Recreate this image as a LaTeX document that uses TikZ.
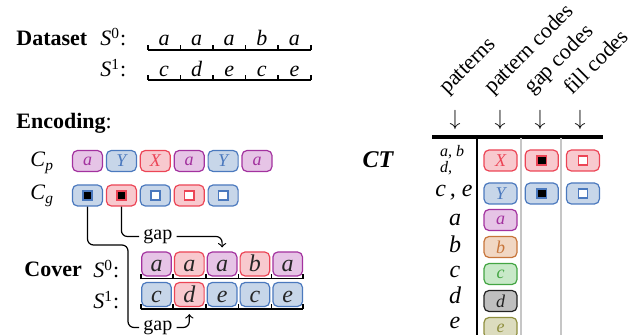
\documentclass[tikz,border=0pt]{standalone}
\usepackage{fontspec}
\setmainfont{Liberation Serif}
\usepackage{xcolor}
\usepackage{tikz}
\usetikzlibrary{positioning}

\definecolor{puD}{HTML}{A3329F}
\definecolor{puL}{HTML}{E6C4E6}
\definecolor{blD}{HTML}{4B79BE}
\definecolor{blL}{HTML}{C7D6E9}
\definecolor{rdD}{HTML}{EC4556}
\definecolor{rdL}{HTML}{F8C9CE}
\definecolor{orD}{HTML}{C7753A}
\definecolor{orL}{HTML}{F1D7C3}
\definecolor{grD}{HTML}{43A543}
\definecolor{grL}{HTML}{C8E9C8}
\definecolor{bkD}{HTML}{222222}
\definecolor{bkL}{HTML}{BFBFBF}
\definecolor{olD}{HTML}{8F8F3E}
\definecolor{olL}{HTML}{DCDCBE}

\newcommand{\gapsq}[2]{{\setlength{\fboxsep}{0pt}\setlength{\fboxrule}{0.8pt}\fcolorbox{#1}{#2}{\rule{0pt}{3.8pt}\hspace{3.8pt}}}}

\tikzstyle{code} = [rectangle, semithick, rounded corners=2.5pt,
    minimum width=15pt, minimum height=10.5pt, inner sep=0pt,
    font=\fontsize{9}{10}\selectfont\itshape]
\tikzstyle{ctcode} = [code, minimum width=16.5pt]
\tikzstyle{cover_box} = [rectangle, semithick, rounded corners=2.5pt,
    minimum width=14.8pt, inner xsep=0pt, inner ysep=2pt,
    text height=8pt, text depth=0pt, text=black!85,
    font=\fontsize{12}{14}\selectfont\itshape]
\tikzstyle{seq} = [inner sep=0pt, minimum width=15.9pt,
    text height=7.5pt, text depth=0pt, font=\fontsize{11}{13}\selectfont\itshape]
\tikzstyle{title} = [anchor=base west, inner sep=0pt, font=\fontsize{11}{13}\selectfont\bfseries]
\tikzstyle{txt} = [inner sep=0pt, font=\fontsize{11}{13}\selectfont]
\tikzstyle{rowlbl} = [inner sep=0pt, anchor=base, font=\fontsize{12}{14}\selectfont\itshape]
\tikzstyle{head} = [rotate=45, anchor=base west, inner sep=0pt, font=\fontsize{11}{13}\selectfont]
\tikzstyle{line} = [draw, semithick]
\tikzstyle{ruler} = [draw, thick]
\tikzstyle{pu} = [draw=puD, fill=puL, text=puD]
\tikzstyle{bl} = [draw=blD, fill=blL, text=blD]
\tikzstyle{rd} = [draw=rdD, fill=rdL, text=rdD]
\tikzstyle{or} = [draw=orD, fill=orL, text=orD]
\tikzstyle{gr} = [draw=grD, fill=grL, text=grD]
\tikzstyle{bk} = [draw=bkD, fill=bkL, text=bkD]
\tikzstyle{ol} = [draw=olD, fill=olL, text=olD]

\begin{document}
\begin{tikzpicture}[x=0.5pt, y=-0.5pt]
    \useasboundingbox (0,0) rectangle (636,335);
    % Dataset
    \node [title] (ttlds) at (16,46) {Dataset};
    \node [txt, anchor=base west] (ds0) at (100,46) {\textit{S}\textsuperscript{0}:};
    \node [txt, anchor=base west] (ds1) at (100,77) {\textit{S}\textsuperscript{1}:};
    \node [seq, anchor=south] (dsa) at (164,46) {a};
    \node [seq, right=0pt of dsa] (dsb) {a};
    \node [seq, right=0pt of dsb] (dsc) {a};
    \node [seq, right=0pt of dsc] (dsd) {b};
    \node [seq, right=0pt of dsd] (dse) {a};
    \node [seq, anchor=south] (dta) at (164,77) {c};
    \node [seq, right=0pt of dta] (dtb) {d};
    \node [seq, right=0pt of dtb] (dtc) {e};
    \node [seq, right=0pt of dtc] (dtd) {c};
    \node [seq, right=0pt of dtd] (dte) {e};
    \path [ruler] ([yshift=-2pt]dsa.south west) -- ([yshift=-2pt]dse.south east)
        ([yshift=-2pt]dsa.south west) -- ++(0,2.5pt) ([yshift=-2pt]dsb.south west) -- ++(0,2.5pt)
        ([yshift=-2pt]dsc.south west) -- ++(0,2.5pt) ([yshift=-2pt]dsd.south west) -- ++(0,2.5pt)
        ([yshift=-2pt]dse.south west) -- ++(0,2.5pt) ([yshift=-2pt]dse.south east) -- ++(0,2.5pt);
    \path [ruler] ([yshift=-1.5pt]dta.south west) -- ([yshift=-1.5pt]dte.south east)
        ([yshift=-1.5pt]dta.south west) -- ++(0,2.5pt) ([yshift=-1.5pt]dtb.south west) -- ++(0,2.5pt)
        ([yshift=-1.5pt]dtc.south west) -- ++(0,2.5pt) ([yshift=-1.5pt]dtd.south west) -- ++(0,2.5pt)
        ([yshift=-1.5pt]dte.south west) -- ++(0,2.5pt) ([yshift=-1.5pt]dte.south east) -- ++(0,2.5pt);

    % Encoding
    \node [title] (ttlenc) at (16,129) {Encoding\mdseries:};
    \node [txt, anchor=base west] (lcp) at (30,167) {\textit{C}\textsubscript{\textit{p}}};
    \node [txt, anchor=base west] (lcg) at (30,200) {\textit{C}\textsubscript{\textit{g}}};
    \node [code, pu] (cpa) at (87.5,161) {a};
    \node [code, bl, right=1.35pt of cpa] (cpb) {Y};
    \node [code, rd, right=1.35pt of cpb] (cpc) {X};
    \node [code, pu, right=1.35pt of cpc] (cpd) {a};
    \node [code, bl, right=1.35pt of cpd] (cpe) {Y};
    \node [code, pu, right=1.35pt of cpe] (cpf) {a};
    \node [code, bl] (cga) at (87.5,195.5) {\gapsq{blD}{black}};
    \node [code, rd, right=1.35pt of cga] (cgb) {\gapsq{rdD}{black}};
    \node [code, bl, right=1.35pt of cgb] (cgc) {\gapsq{blD}{white}};
    \node [code, rd, right=1.35pt of cgc] (cgd) {\gapsq{rdD}{white}};
    \node [code, bl, right=1.35pt of cgd] (cge) {\gapsq{blD}{white}};

    % Cover
    \node [title] (ttlcov) at (24,277) {Cover};
    \node [txt, anchor=base west] (cs0) at (93,278) {\textit{S}\textsuperscript{0}:};
    \node [txt, anchor=base west] (cs1) at (93,309) {\textit{S}\textsuperscript{1}:};
    \node [pu, cover_box] (cva) at (156.5,264) {a};
    \node [rd, cover_box, right=1pt of cva] (cvb) {a};
    \node [pu, cover_box, right=1pt of cvb] (cvc) {a};
    \node [rd, cover_box, right=1pt of cvc] (cvd) {b};
    \node [pu, cover_box, right=1pt of cvd] (cve) {a};
    \node [bl, cover_box] (cwa) at (156.5,294.5) {c};
    \node [rd, cover_box, right=1pt of cwa] (cwb) {d};
    \node [bl, cover_box, right=1pt of cwb] (cwc) {e};
    \node [bl, cover_box, right=1pt of cwc] (cwd) {c};
    \node [bl, cover_box, right=1pt of cwd] (cwe) {e};
    \path [ruler] ([yshift=-1pt]cva.south west) -- ([yshift=-1pt]cve.south east)
        ([yshift=-1pt]cva.south west) -- ++(0,2.5pt) ([xshift=-0.5pt,yshift=-1pt]cvb.south west) -- ++(0,2.5pt)
        ([xshift=-0.5pt,yshift=-1pt]cvc.south west) -- ++(0,2.5pt) ([xshift=-0.5pt,yshift=-1pt]cvd.south west) -- ++(0,2.5pt)
        ([xshift=-0.5pt,yshift=-1pt]cve.south west) -- ++(0,2.5pt) ([yshift=-1pt]cve.south east) -- ++(0,2.5pt);
    \path [ruler] ([yshift=-1pt]cwa.south west) -- ([yshift=-1pt]cwe.south east)
        ([yshift=-1pt]cwa.south west) -- ++(0,2.5pt) ([xshift=-0.5pt,yshift=-1pt]cwb.south west) -- ++(0,2.5pt)
        ([xshift=-0.5pt,yshift=-1pt]cwc.south west) -- ++(0,2.5pt) ([xshift=-0.5pt,yshift=-1pt]cwd.south west) -- ++(0,2.5pt)
        ([xshift=-0.5pt,yshift=-1pt]cwe.south west) -- ++(0,2.5pt) ([yshift=-1pt]cwe.south east) -- ++(0,2.5pt);

    % gaps
    \node [txt, anchor=west, inner xsep=2pt, font=\fontsize{10}{12}\selectfont] (gap1) at (139,236.5) {gap};
    \node [txt, anchor=west, inner xsep=2pt, font=\fontsize{10}{12}\selectfont] (gap2) at (139,327.5) {gap};
    \coordinate (bend) at (128,245);
    \path [line, rounded corners=3pt] (cgb.south) |- (gap1.west);
    \path [line, ->, rounded corners=3pt] (gap1.east) -| ([yshift=2pt]cvc.north);
    \path [line, rounded corners=3pt] (cga.south) |- (bend) |- (gap2.west);
    \path [line, ->, rounded corners=3pt] (gap2.east) -| ([yshift=-3.5pt]cwb.south);

    % code table
    \node [txt, font=\fontsize{12}{14}\selectfont\bfseries\itshape] (ct) at (378,160) {CT};
    \node [head] (hpat) at (447,95) {patterns};
    \node [head] (hpc) at (492,95) {pattern codes};
    \node [head] (hgap) at (532,95) {gap codes};
    \node [head] (hfill) at (572,96) {fill codes};
    \node [txt] (apat) at (455,120) {$\downarrow$};
    \node [txt] (apc) at (500,120) {$\downarrow$};
    \node [txt] (agap) at (540,120) {$\downarrow$};
    \node [txt] (afill) at (580,120) {$\downarrow$};
    \draw [line width=1.6pt] (432,137) -- (603,137);
    \draw [line width=1.4pt] (477,137) -- (477,335);
    \draw [gray!45, semithick] (521,138) -- (521,335);
    \draw [gray!45, semithick] (561,138) -- (561,335);

    \node [txt, align=left, font=\fontsize{8}{6.5}\selectfont\itshape] (rowx) at (452,160) {a, b\\d,};
    \node [rowlbl] (rowy) at (454,197) {c\,, e};
    \node [rowlbl] (rowa) at (455,226) {a};
    \node [rowlbl] (rowb) at (455,253) {b};
    \node [rowlbl] (rowc) at (455,278) {c};
    \node [rowlbl] (rowd) at (455,304) {d};
    \node [rowlbl] (rowe) at (455,329) {e};

    \node [ctcode, rd] (ctx) at (500.5,160.5) {X};
    \node [ctcode, rd, right=3.5pt of ctx] (ctxg) {\gapsq{rdD}{black}};
    \node [ctcode, rd, right=3.5pt of ctxg] (ctxf) {\gapsq{rdD}{white}};
    \node [ctcode, bl] (cty) at (500.5,193.5) {Y};
    \node [ctcode, bl, right=3.5pt of cty] (ctyg) {\gapsq{blD}{black}};
    \node [ctcode, bl, right=3.5pt of ctyg] (ctyf) {\gapsq{blD}{white}};
    \node [ctcode, pu] (cta) at (500.5,220) {a};
    \node [ctcode, or, below=2.4pt of cta] (ctb) {b};
    \node [ctcode, gr, below=2.4pt of ctb] (ctc) {c};
    \node [ctcode, bk, below=2.4pt of ctc] (ctd) {d};
    \node [ctcode, ol, below=2.4pt of ctd] (cte) {e};
\end{tikzpicture}
\end{document}
